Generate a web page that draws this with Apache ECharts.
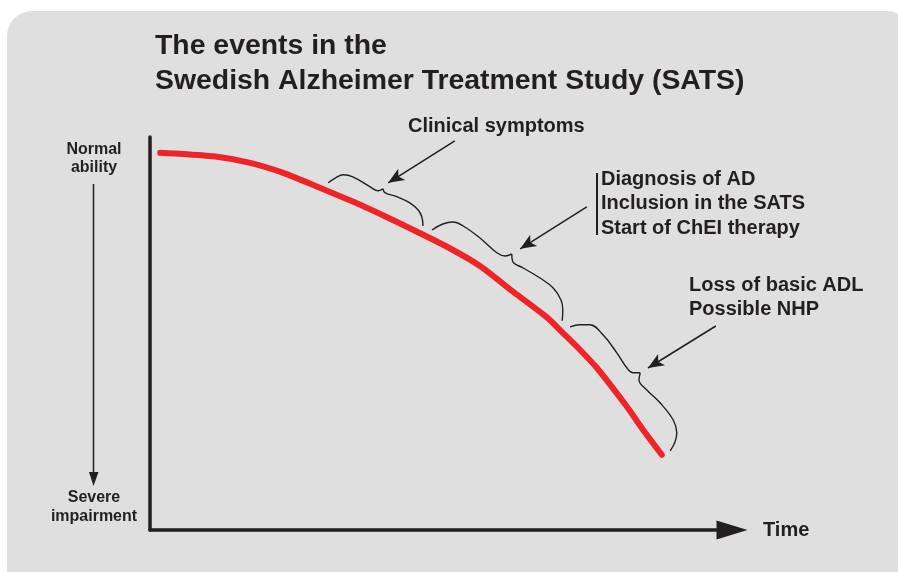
<!DOCTYPE html>
<html>
<head>
<meta charset="utf-8">
<script src="https://cdn.jsdelivr.net/npm/echarts@6/dist/echarts.min.js"></script>
<style>
  html, body { margin: 0; padding: 0; background: #fff; }
  #chart { width: 898px; height: 572px; }
</style>
</head>
<body>
<div id="chart"></div>
<script>
// disease course (time vs ability)
const timeVals    = [1.7, 5.5, 11.2, 16.7, 22.2, 27.8, 33.8, 39.5, 45, 50.5, 55, 60.5, 66.2, 68.8, 71.7, 74.5, 79.5, 82.2, 85.3];
const abilityVals = [94.3, 94, 93.3, 91.8, 89.3, 85.9, 82.1, 78.2, 74.2, 70, 66, 59.6, 53.1, 49.3, 45, 40.5, 30.8, 25, 18.8];

// braces, each in two halves meeting at the tip
const brace1a = [[29.7, 86.8], [31.2, 88.3], [32.2, 88.8], [33.8, 88.3], [36.7, 85.8], [38, 84.8], [38.8, 85.3]];
const brace1b = [[38.8, 85.3], [39.2, 84.3], [41.2, 83.3], [43.3, 81.8], [44.7, 80], [45.3, 78.3], [45.5, 76]];
const brace2a = [[47, 75], [48.8, 76.5], [50.5, 77], [52.2, 76], [55, 73], [57.8, 69.3], [59.2, 68.5], [60.3, 69]];
const brace2b = [[60.3, 69], [60.5, 67], [62.2, 65.5], [65, 63], [67.2, 60.5], [68.5, 57.5], [68.8, 55], [68.7, 52.3]];
const brace3a = [[70, 50.8], [71.7, 51.3], [73.3, 51.3], [75.5, 48.8], [77.8, 44.3], [79.5, 40.5], [80.5, 39.3], [81.7, 39.3]];
const brace3b = [[81.7, 39.3], [81.5, 37.5], [82.8, 35], [85, 31.8], [87.2, 27.5], [87.8, 24.3], [87.5, 22], [86.7, 19.8]];

// pointer arrows: [start, tip]
const arrowLines = [
  [[50.8, 97.3], [39.7, 86.8]],
  [[72.8, 80.8], [61.7, 70.3]],
  [[94.3, 51], [83, 40.5]]
];

const titleText = 'The events in the\nSwedish Alzheimer Treatment Study (SATS)';
const eventLabels = ['Clinical symptoms', 'Diagnosis of AD', 'Inclusion in the SATS', 'Start of ChEI therapy', 'Loss of basic ADL', 'Possible NHP'];

const FONT = '"Liberation Sans", Arial, sans-serif';
const INK = '#231f20';

function braceSeries (pts) {
  return {
    type: 'line',
    data: pts,
    smooth: 0.4,
    showSymbol: false,
    silent: true,
    lineStyle: { color: INK, width: 1.4 },
    z: 3
  };
}

function txt (text, x, y, size, align) {
  return {
    type: 'text',
    silent: true,
    style: {
      text: text, x: x, y: y,
      fill: INK,
      font: 'bold ' + size + 'px ' + FONT,
      align: align || 'left',
      verticalAlign: 'middle'
    }
  };
}

const chart = echarts.init(document.getElementById('chart'));

chart.setOption({
  animation: false,
  backgroundColor: '#fff',
  title: {
    text: titleText,
    left: 155,
    top: 29,
    padding: 0,
    textStyle: {
      color: INK,
      fontFamily: FONT,
      fontWeight: 'bold',
      fontSize: 28.4,
      lineHeight: 34.5
    }
  },
  grid: { left: 150, top: 137, width: 582, height: 393 },
  xAxis: {
    type: 'value',
    min: 0,
    max: 97,
    axisLine: {
      show: true,
      symbol: ['none', 'triangle'],
      symbolSize: [19, 31],
      lineStyle: { color: INK, width: 3.5 }
    },
    axisTick: { show: false },
    axisLabel: { show: false },
    splitLine: { show: false }
  },
  yAxis: {
    type: 'value',
    min: 0,
    max: 98.25,
    axisLine: { show: true, lineStyle: { color: INK, width: 3.5 } },
    axisTick: { show: false },
    axisLabel: { show: false },
    splitLine: { show: false }
  },
  graphic: [
    {
      type: 'rect',
      z: -10,
      silent: true,
      shape: { x: 7, y: 11, width: 905, height: 590, r: 25 },
      style: { fill: '#dfdfdf' }
    },
    // ability direction arrow on the left
    {
      type: 'line',
      silent: true,
      shape: { x1: 93.5, y1: 184, x2: 93.5, y2: 474 },
      style: { stroke: INK, lineWidth: 1.5 }
    },
    {
      type: 'polygon',
      silent: true,
      shape: { points: [[89, 472], [98.5, 472], [93.5, 486]] },
      style: { fill: INK }
    },
    txt('Normal', 94, 149.5, 16, 'center'),
    txt('ability', 94, 168, 16, 'center'),
    txt('Severe', 94, 498, 16, 'center'),
    txt('impairment', 94, 516.5, 16, 'center'),
    txt('Time', 763, 530, 20),
    txt(eventLabels[0], 408, 126, 20),
    {
      type: 'line',
      silent: true,
      shape: { x1: 597, y1: 173, x2: 597, y2: 235 },
      style: { stroke: INK, lineWidth: 2 }
    },
    txt(eventLabels[1], 601, 179, 20),
    txt(eventLabels[2], 601, 203.5, 20),
    txt(eventLabels[3], 601, 228, 20),
    txt(eventLabels[4], 689, 285, 20),
    txt(eventLabels[5], 689, 309, 20)
  ],
  series: [
    {
      name: 'Ability',
      type: 'line',
      data: timeVals.map((t, i) => [t, abilityVals[i]]),
      smooth: 0.25,
      showSymbol: false,
      silent: true,
      lineStyle: { color: '#ee2427', width: 6, cap: 'round' },
      z: 4
    },
    braceSeries(brace1a),
    braceSeries(brace1b),
    braceSeries(brace2a),
    braceSeries(brace2b),
    braceSeries(brace3a),
    braceSeries(brace3b),
    {
      type: 'line',
      data: [],
      silent: true,
      markLine: {
        silent: true,
        animation: false,
        symbol: ['none', 'arrow'],
        symbolSize: [10, 16],
        label: { show: false },
        lineStyle: { color: INK, width: 1.5, type: 'solid' },
        emphasis: { disabled: true },
        data: arrowLines.map(a => [{ coord: a[0] }, { coord: a[1] }])
      }
    }
  ]
});
</script>
</body>
</html>
